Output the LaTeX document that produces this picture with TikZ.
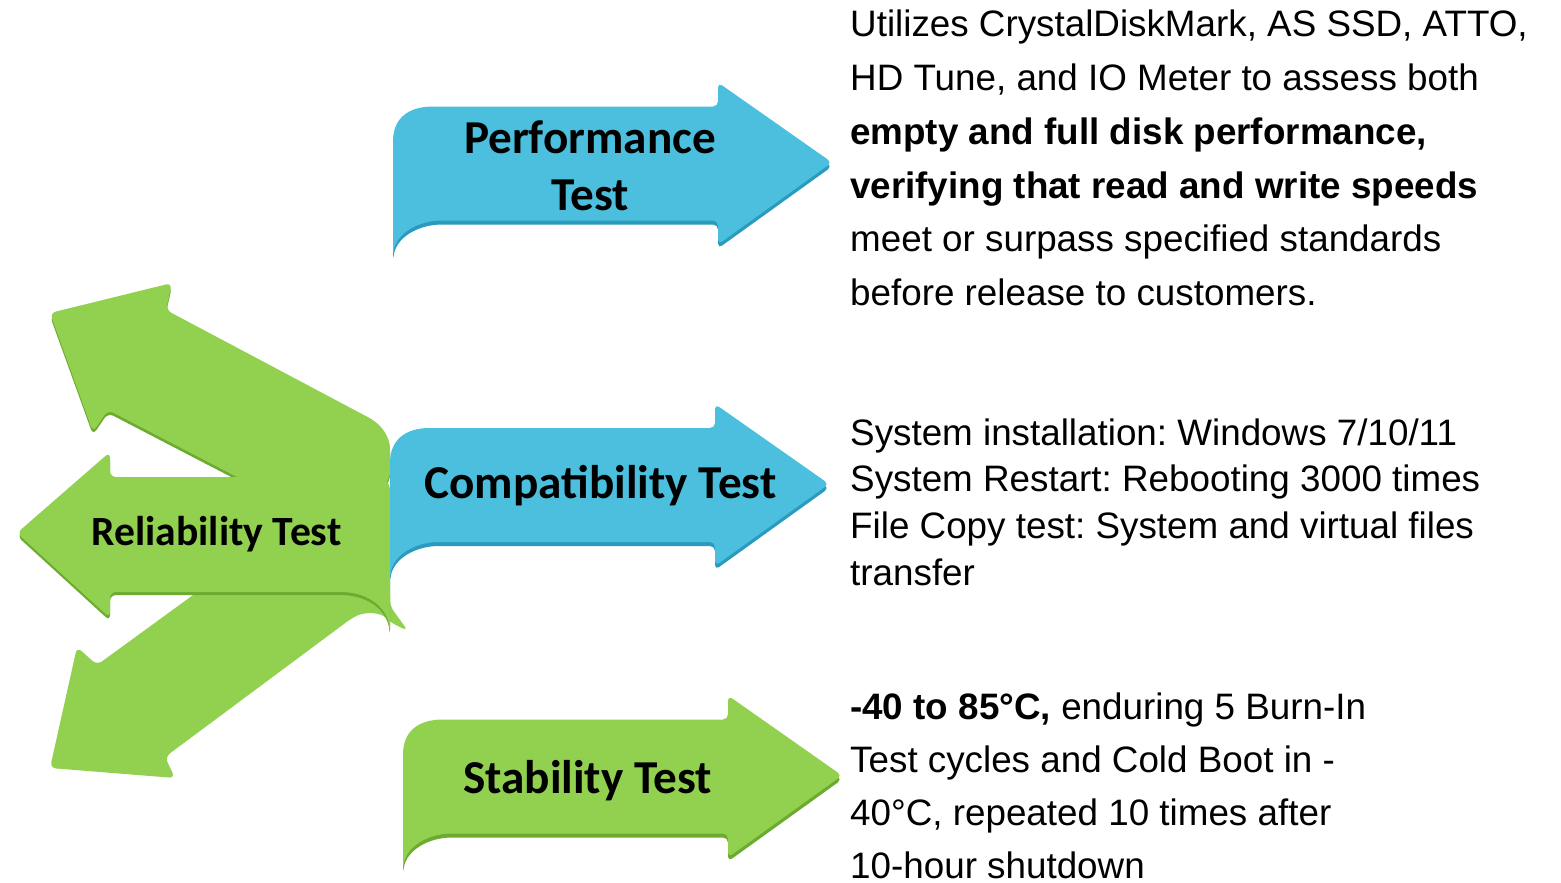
\documentclass[tikz,border=0pt]{standalone}
\usepackage{fontspec}
\setmainfont{Liberation Sans}
\newfontfamily\calibri{Carlito}
\frenchspacing
\definecolor{blueF}{HTML}{4BBFDD}
\definecolor{blueD}{HTML}{2A9BBE}
\definecolor{greenF}{HTML}{92D050}
\definecolor{greenD}{HTML}{6CAA30}
\tikzset{
  pics/ribbon/.style 2 args={code={
    \fill[#2, shift={(0,4)}, rounded corners=5pt] (0,93) -- (0,-17) .. controls (0,-45) and (15,-57) .. (45,-57) -- (325,-57) -- (325,-81) -- (439,-1) -- (325,81) -- (325,57) -- (54,57) .. controls (25,57) and (3,70) .. (0,93) -- cycle;
    \fill[#1, rounded corners=5pt] (0,93) -- (0,-17) .. controls (0,-45) and (15,-57) .. (45,-57) -- (325,-57) -- (325,-81) -- (439,-1) -- (325,81) -- (325,57) -- (54,57) .. controls (25,57) and (3,70) .. (0,93) -- cycle;
  }},
  title/.style={font=\calibri\bfseries\fontsize{47.2}{57}\selectfont, inner sep=0, anchor=base},
  body/.style={font=\fontsize{36.8}{53.7}\selectfont, inner sep=0, anchor=base west},
  garrow/.style={fill=greenF, rounded corners=6pt},
  gshadow/.style={fill=greenD, rounded corners=6pt, shift={(0,3)}},
}
\begin{document}
\begin{tikzpicture}[x=1pt, y=-1pt]
\useasboundingbox (0,0) rectangle (1561,883);
% lower diagonal green arrow
\fill[garrow] (50,768) -- (77,647) -- (97,665) -- (200,590) -- (390,590) -- (390,606) -- (408,631) -- (390,622) .. controls (380,612) and (365,612) .. (352,618) -- (165,757) -- (175,778) -- cycle;
% upper diagonal green arrow
\fill[gshadow] (50,313) -- (172,283) -- (166,310) -- (362,414) .. controls (385,426) and (390,440) .. (390,455) -- (390,478) -- (380,490) -- (262,490) -- (108,410) -- (93,432) -- cycle;
\fill[garrow] (50,313) -- (172,283) -- (166,310) -- (362,414) .. controls (385,426) and (390,440) .. (390,455) -- (390,478) -- (380,490) -- (262,490) -- (108,410) -- (93,432) -- cycle;
% horizontal green arrow
\fill[gshadow] (17,533) -- (110,452) -- (110,477) -- (375,477) .. controls (385,477) and (390,485) .. (390,495) -- (390,633) .. controls (387,605) and (365,592) .. (335,592) -- (110,592) -- (110,618) -- cycle;
\fill[garrow] (17,533) -- (110,452) -- (110,477) -- (375,477) .. controls (385,477) and (390,485) .. (390,495) -- (390,633) .. controls (387,605) and (365,592) .. (335,592) -- (110,592) -- (110,618) -- cycle;
\node[title, font=\calibri\bfseries\fontsize{41.6}{50}\selectfont] (rel) at (216.5,545) {Reliability Test};
% ribbons
\pic (perf) at (393,163.5) {ribbon={blueF}{blueD}};
\pic (comp) at (390,485) {ribbon={blueF}{blueD}};
\pic (stab) at (403,776.5) {ribbon={greenF}{greenD}};
\node[title] (perf1) at (590,153) {Performance};
\node[title] (perf2) at (590,210) {Test};
\node[title] (comptxt) at (600.5,498) {Compatibility Test};
\node[title] (stabtxt) at (587.5,793) {Stability Test};
% descriptions
\node[body] (perfdesc) at (850,37) {\vtop{\hbox{Utilizes CrystalDiskMark, AS SSD, ATTO,}\hbox{HD Tune, and IO Meter to assess both}\hbox{\bfseries empty and full disk performance,}\hbox{\bfseries verifying that read and write speeds}\hbox{meet or surpass specified standards}\hbox{before release to customers.}}};
\node[body, font=\fontsize{36.8}{46.7}\selectfont] (compdesc) at (850,445) {\vtop{\hbox{System installation: Windows 7/10/11}\hbox{System Restart: Rebooting 3000 times}\hbox{File Copy test: System and virtual files}\hbox{transfer}}};
\node[body, font=\fontsize{36.8}{53.3}\selectfont] (stabdesc) at (850,719) {\vtop{\hbox{\bfseries -40 to 85°C,\mdseries{} enduring 5 Burn-In}\hbox{Test cycles and Cold Boot in -}\hbox{40°C, repeated 10 times after}\hbox{10-hour shutdown}}};
\end{tikzpicture}
\end{document}
